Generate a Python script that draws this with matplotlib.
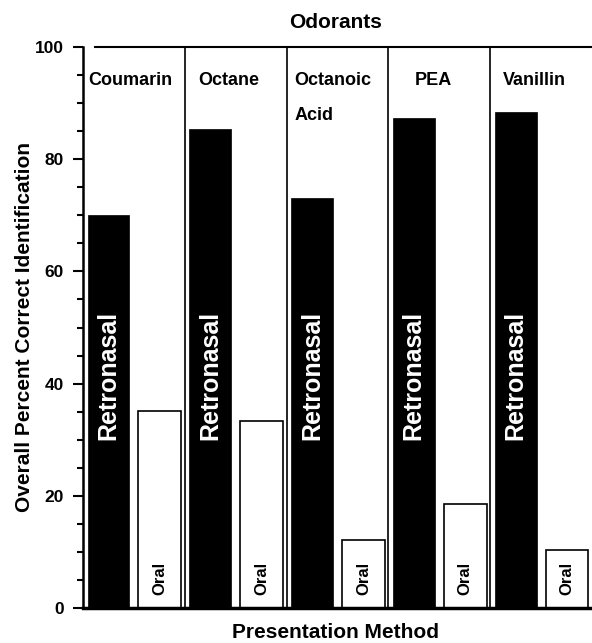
import matplotlib
matplotlib.use("Agg")
import matplotlib.pyplot as plt
import numpy as np

odorants = ["Coumarin", "Octane", "Octanoic\n\nAcid", "PEA", "Vanillin"]
retronasal = [70.0, 85.4, 73.0, 87.3, 88.4]
oral = [35.2, 33.4, 12.2, 18.6, 10.4]
yticks = [0, 20, 40, 60, 80, 100]

plt.rcParams['font.family'] = ['Liberation Sans', 'DejaVu Sans']
plt.rcParams['font.weight'] = 'bold'

fig = plt.figure(figsize=(5.92, 6.43), dpi=100)
ax = fig.add_axes([83 / 592, 35 / 643, 1 - 83 / 592, 561 / 643])

x = np.arange(len(odorants))
ax.bar(x - 0.25, retronasal, width=0.41, color='black', edgecolor='black', linewidth=0.5)
ax.bar(x + 0.255, oral, width=0.42, color='white', edgecolor='black', linewidth=1.2)

for xi in x:
    ax.text(xi - 0.25, 41.5, "Retronasal", rotation=90, color='white', fontsize=18,
            fontweight='bold', ha='center', va='center')
    ax.text(xi + 0.255, 5.2, "Oral", rotation=90, color='black', fontsize=12,
            fontweight='bold', ha='center', va='center')

# separators between odorant groups
for xi in x[:-1]:
    ax.plot([xi + 0.5, xi + 0.5], [0, 100], color='black', lw=1.2, clip_on=False)
# top line
ax.plot([-0.38, 4.5], [100, 100], color='black', lw=1.5, clip_on=False)

# odorant labels (offset from group left edge, in group units)
label_offsets = [0.05, 0.13, 0.08, 0.255, 0.12]
for xi, name, off in zip(x, odorants, label_offsets):
    ax.text(xi - 0.5 + off, 95.6, name, fontsize=13, fontweight='bold',
            ha='left', va='top', linespacing=1.05)

ax.set_xlim(-0.5, 4.5)
ax.set_ylim(0, 100)
ax.set_yticks(yticks)
ax.set_yticklabels([str(v) for v in yticks], fontsize=12.5, fontweight='bold')
ax.set_yticks(np.arange(0, 101, 5), minor=True)
ax.tick_params(axis='y', which='major', length=7, width=1.5, direction='out', pad=7)
ax.tick_params(axis='y', which='minor', length=4, width=1.5, direction='out')
ax.set_xticks([])

for s in ['top', 'right']:
    ax.spines[s].set_visible(False)
ax.spines['left'].set_linewidth(1.8)
ax.spines['bottom'].set_linewidth(2.5)

ax.set_ylabel("Overall Percent Correct Identification", fontsize=15, fontweight='bold')
ax.yaxis.set_label_coords(-0.097, 0.5)
fig.text(336 / 592, 1 - 633 / 643, "Presentation Method", fontsize=15, fontweight='bold',
         ha='center', va='center')
fig.text(336 / 592, 1 - 22 / 643, "Odorants", fontsize=15, fontweight='bold',
         ha='center', va='center')

fig.savefig("out.png", dpi=100)
